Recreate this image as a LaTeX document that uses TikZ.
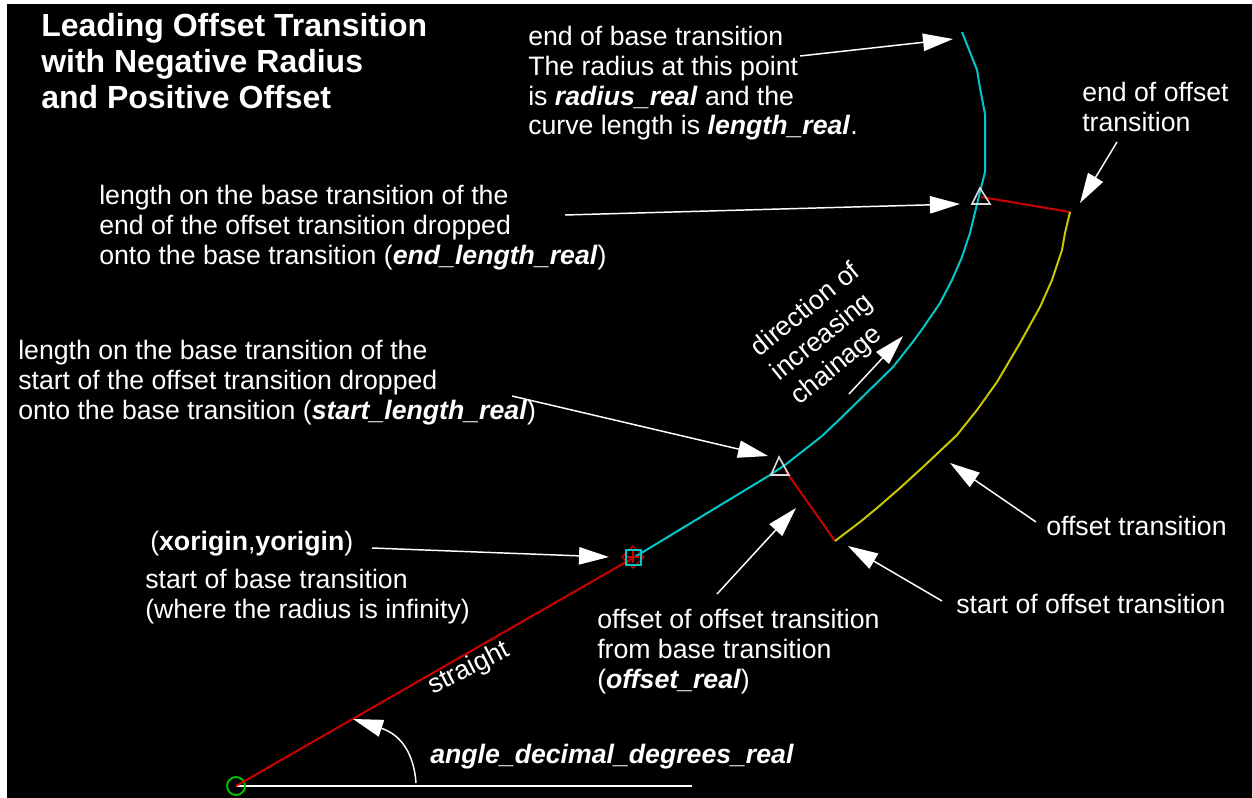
\documentclass[tikz,border=0pt]{standalone}
\usepackage{fontspec}
\setmainfont{Liberation Sans}
\usetikzlibrary{arrows.meta}
\definecolor{basecyan}{RGB}{0,200,200}
\definecolor{offsetyellow}{RGB}{200,200,0}
\definecolor{linered}{RGB}{205,0,0}
\definecolor{startgreen}{RGB}{0,200,0}
\newcommand{\varname}[1]{\textbf{\textit{#1}}}
\begin{document}
\begin{tikzpicture}[x=0.75pt,y=-0.75pt,
	label node/.style={anchor=north west,inner sep=0pt,align=left,text=white,font=\fontsize{20}{22.3}\selectfont},
	title node/.style={label node,font=\fontsize{24}{27}\selectfont\bfseries},
	turned node/.style={anchor=center,inner sep=0pt,align=left,text=white,font=\fontsize{20}{23.5}\selectfont},
	pointer/.style={white,line width=1.1pt,-{Triangle[length=22.5pt,width=13pt]}},
	base curve/.style={draw=basecyan,line width=1.5pt},
	offset curve/.style={draw=offsetyellow,line width=1.5pt},
	straight line/.style={draw=linered,line width=1.5pt},
	mark tri/.style={draw=black!15,line width=1.2pt}]
	
	\useasboundingbox (0,0) rectangle (1252,798);
	\fill[white] (0,0) rectangle (1252,798);
	\fill[black] (7,4) rectangle (1252,798);
	
	\node[title node] (title) at (41,13.5) {Leading Offset Transition\\with Negative Radius\\and Positive Offset};
	\node[label node] (baseEnd) at (528,26) {end of base transition\\The radius at this point\\is \varname{radius\_real} and the\\curve length is \varname{length\_real}.};
	\node[label node] (offsetEnd) at (1082,82) {end of offset\\transition};
	\node[label node] (endLength) at (99,185) {length on the base transition of the\\end of the offset transition dropped\\onto the base transition (\varname{end\_length\_real})};
	\node[label node] (startLength) at (18,340) {length on the base transition of the\\start of the offset transition dropped\\onto the base transition (\varname{start\_length\_real})};
	\node[label node] (origin) at (150,531) {(\textbf{xorigin},\textbf{yorigin})};
	\node[label node] (startBase) at (145,569) {start of base transition\\(where the radius is infinity)};
	\node[label node] (offsetOf) at (597,609) {offset of offset transition\\from base transition\\(\varname{offset\_real})};
	\node[label node] (startOffset) at (956,594) {start of offset transition};
	\node[label node] (offsetTrans) at (1046,516) {offset transition};
	\node[label node] (angle) at (430,744) {\varname{angle\_decimal\_degrees\_real}};
	\node[turned node,rotate=27] (straight) at (469,669) {straight};
	\node[turned node,rotate=39] (chainage) at (826,335) {direction of\\increasing\\chainage};
	
	% the alignment
	\coordinate (start) at (236,786);
	\coordinate (tsStart) at (633,558);
	\coordinate (dropStart) at (785,470);
	\coordinate (dropEnd) at (981,197);
	\coordinate (osStart) at (835,541);
	\coordinate (osEnd) at (1070,212);
	
	\draw[white,line width=1.6pt] (start) -- (692,786);
	\draw[draw=startgreen,line width=1.4pt] (start) circle (9);
	\draw[straight line] (start) -- (tsStart);
	\draw[straight line] (dropStart) -- (osStart);
	\draw[straight line] (dropEnd) -- (osEnd);
	\draw[base curve] (tsStart) -- (643,552) -- (770,475) -- (785,465) -- (822,436) -- (842,417) -- (893,367) -- (912,343) -- (923,328) -- (940,303) -- (952,280) -- (962,257) -- (970,233) -- (978,200) -- (985,172) -- (985,114) -- (980,88) -- (977,70) -- (962,32);
	\draw[offset curve] (osStart) -- (860,522) -- (877,508) -- (900,488) -- (923,467) -- (957,435) -- (977,410) -- (997,382) -- (1020,343) -- (1040,307) -- (1052,280) -- (1062,250) -- (1065,233) -- (osEnd);
	
	% markers
	\draw[mark tri] (980,188) -- (990,204) -- (972,204) -- cycle;
	\draw[mark tri] (779,457) -- (789,475) -- (771,475) -- cycle;
	\draw[straight line,line width=1pt] (633,546) -- (644,557) -- (633,568) -- (622,557) -- cycle;
	\draw[straight line,line width=1pt] (627,557) -- (639,557) (633,551) -- (633,563);
	\draw[base curve] (626,550) rectangle (641,565);
	
	% pointers
	\coordinate (p1) at (800,56);
	\coordinate (q1) at (953,39);
	\coordinate (p2) at (565,215);
	\coordinate (q2) at (960,204);
	\coordinate (p3) at (1117,142);
	\coordinate (q3) at (1080,203);
	\coordinate (p4) at (849,394);
	\coordinate (q4) at (903,336);
	\coordinate (p5) at (512,396);
	\coordinate (q5) at (768,456);
	\coordinate (p6) at (372,548);
	\coordinate (q6) at (609,557);
	\coordinate (p7) at (717,594);
	\coordinate (q7) at (796,508);
	\coordinate (p8) at (942,601);
	\coordinate (q8) at (848,546);
	\coordinate (p9) at (1036,522);
	\coordinate (q9) at (950,463);
	\coordinate (p10) at (416,783);
	\coordinate (q10) at (353,719);
	
	\foreach \i in {1,...,9}
		\draw[pointer] (p\i) -- (q\i);
	\draw[pointer] (p10) .. controls (414,755) and (402,735) .. (q10);
\end{tikzpicture}
\end{document}
